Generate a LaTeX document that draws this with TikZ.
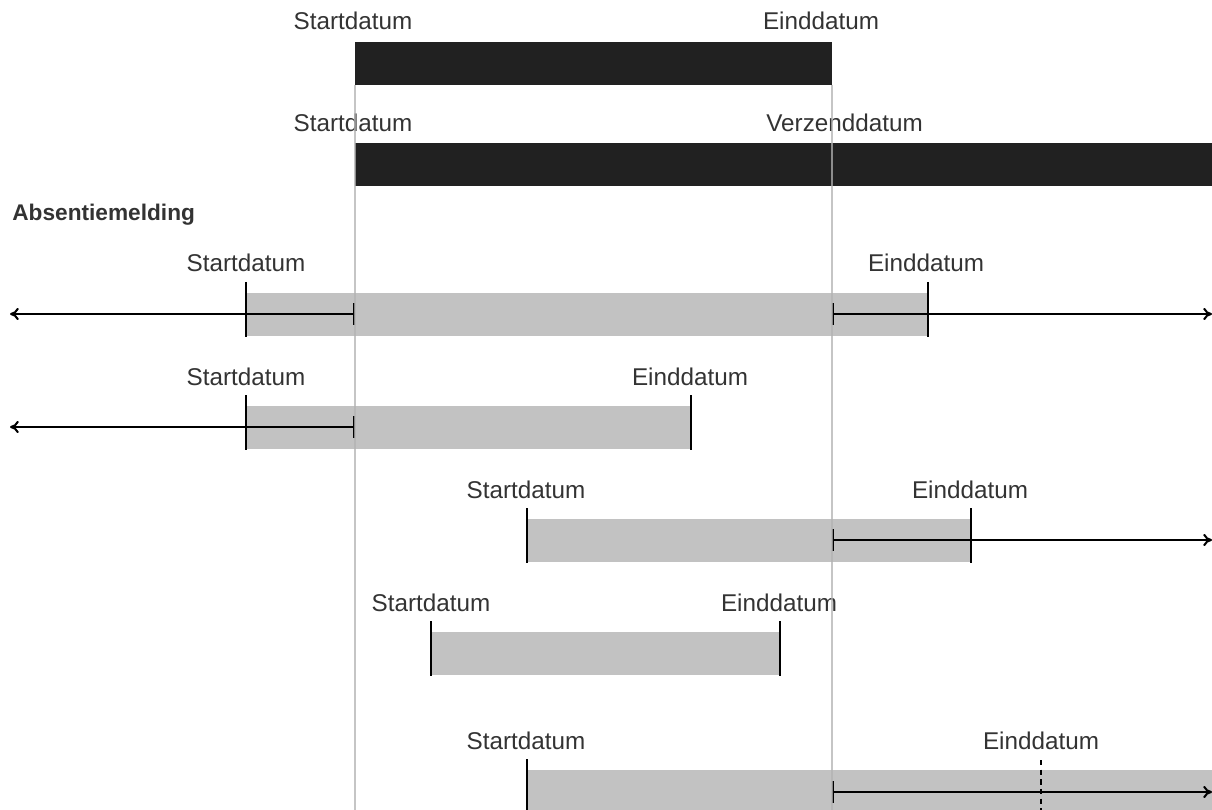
\documentclass[tikz,border=0pt]{standalone}
\usepackage{fontspec}
\setmainfont{Liberation Sans}
\usetikzlibrary{arrows,arrows.meta}

\begin{document}
\begin{tikzpicture}[x=0.02cm,y=-0.02cm]
\tikzstyle{lbl}=[anchor=base, inner sep=0pt, text=black!80,
font=\fontsize{13.8}{16}\selectfont]
\tikzstyle{head}=[lbl, anchor=base west, font=\fontsize{12.9}{16}\selectfont\bfseries]
\tikzstyle{bar}=[fill=black!87]
\tikzstyle{span}=[fill=black!24]
\tikzstyle{tick}=[draw, line width=1.15pt]
\tikzstyle{guide}=[draw=black!30, line width=1pt, opacity=0.75]
\tikzstyle{axis}=[draw, line width=1.15pt]
\tikzstyle{before}=[axis, arrows={To[length=5pt,width=7pt]-Bar[width=12.5pt]}]
\tikzstyle{after}=[axis, arrows={Bar[width=12.5pt]-To[length=5pt,width=7pt]}]

\useasboundingbox (0,0) rectangle (1212,810);

% periode en verzending
\fill[bar] (355,42) rectangle (832,85);
\node (pstart) [lbl] at (353,30) {Startdatum};
\node (peind) [lbl] at (821,30) {Einddatum};
\fill[bar] (355,143) rectangle (1212,186);
\node (vstart) [lbl] at (353,132) {Startdatum};
\node (verzend) [lbl, anchor=base west] at (766,132) {Verzenddatum};

\node (title) [head] at (12,221) {Absentiemelding};

% grenzen van de periode
\coordinate (gl) at (355,810);
\coordinate (gr) at (832,810);

% melding 1
\fill[span] (246,293) rectangle (928,336);
\node (s1) [lbl] at (246,272) {Startdatum};
\node (e1) [lbl] at (926,272) {Einddatum};
\coordinate (a1) at (246,314);
\coordinate (b1) at (928,314);
\draw[tick] (a1) +(0,-32) -- +(0,23);
\draw[tick] (b1) +(0,-32) -- +(0,23);
\draw[before] (10,314) coordinate (l1) -- (355,314) coordinate (g1);
\draw[after] (832,314) coordinate (h1) -- (1212,314) coordinate (r1);

% melding 2
\fill[span] (246,406) rectangle (691,449);
\node (s2) [lbl] at (246,385) {Startdatum};
\node (e2) [lbl] at (690,385) {Einddatum};
\coordinate (a2) at (246,427);
\coordinate (b2) at (691,427);
\draw[tick] (a2) +(0,-32) -- +(0,23);
\draw[tick] (b2) +(0,-32) -- +(0,23);
\draw[before] (10,427) coordinate (l2) -- (355,427) coordinate (g2);

% melding 3
\fill[span] (527,519) rectangle (971,562);
\node (s3) [lbl] at (526,498) {Startdatum};
\node (e3) [lbl] at (970,498) {Einddatum};
\coordinate (a3) at (527,540);
\coordinate (b3) at (971,540);
\draw[tick] (a3) +(0,-32) -- +(0,23);
\draw[tick] (b3) +(0,-32) -- +(0,23);
\draw[after] (832,540) coordinate (h3) -- (1212,540) coordinate (r3);

% melding 4
\fill[span] (431,632) rectangle (780,675);
\node (s4) [lbl] at (431,611) {Startdatum};
\node (e4) [lbl] at (779,611) {Einddatum};
\coordinate (a4) at (431,653);
\coordinate (b4) at (780,653);
\draw[tick] (a4) +(0,-32) -- +(0,23);
\draw[tick] (b4) +(0,-32) -- +(0,23);

% melding 5
\fill[span] (527,770) rectangle (1212,810);
\node (s5) [lbl] at (526,749) {Startdatum};
\node (e5) [lbl] at (1041,749) {Einddatum};
\coordinate (a5) at (527,792);
\coordinate (b5) at (1041,792);
\draw[tick] (a5) +(0,-33) -- +(0,18);
\draw[tick, dash pattern=on 3pt off 2.5pt] (b5) +(0,-32) -- +(0,18);
\draw[after] (832,792) coordinate (h5) -- (1212,792) coordinate (r5);

% hulplijnen
\draw[guide] (355,85) -- (gl);
\draw[guide] (832,85) -- (gr);
\end{tikzpicture}
\end{document}
